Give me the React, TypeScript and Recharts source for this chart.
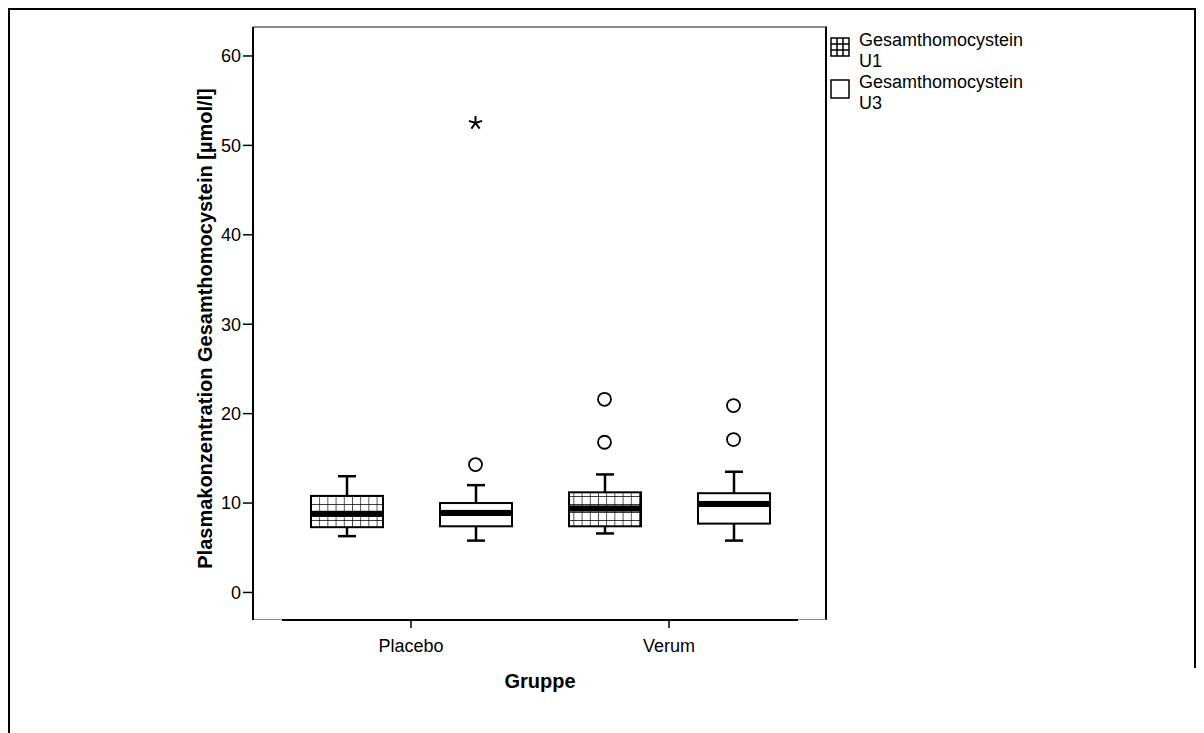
import React from "react";
import {
  ComposedChart,
  Bar,
  Scatter,
  XAxis,
  YAxis,
  ReferenceLine,
} from "recharts";

// boxes: Placebo U1, Placebo U3, Verum U1, Verum U3
const GROUPS = ["Placebo", "Verum"];
const SERIES = ["U1", "U3"];
const BOX_POS = [1, 3, 5, 7];
const WHISKER_LOW = [6.3, 5.8, 6.6, 5.8];
const Q1 = [7.3, 7.4, 7.4, 7.7];
const MEDIAN = [8.8, 8.9, 9.4, 9.9];
const Q3 = [10.8, 10.0, 11.2, 11.1];
const WHISKER_HIGH = [13.0, 12.0, 13.2, 13.5];

const OUTLIER_POS = [3, 5, 5, 7, 7];
const OUTLIER_VAL = [14.3, 21.6, 16.8, 20.9, 17.1];
const EXTREME_POS = [3];
const EXTREME_VAL = [52.5];

const Y_TICKS = [0, 10, 20, 30, 40, 50, 60];
const GROUP_TICKS = [2, 6];

const FONT = "'Liberation Sans', Arial, sans-serif";

const boxes = BOX_POS.map((x, i) => ({
  name: `${GROUPS[Math.floor(i / 2)]} ${SERIES[i % 2]}`,
  series: SERIES[i % 2],
  x,
  base: WHISKER_LOW[i],
  wLow: Q1[i] - WHISKER_LOW[i],
  boxLow: MEDIAN[i] - Q1[i],
  boxHigh: Q3[i] - MEDIAN[i],
  wHigh: WHISKER_HIGH[i] - Q3[i],
}));

const outliers = OUTLIER_POS.map((x, i) => ({ x, y: OUTLIER_VAL[i] }));
const extremes = EXTREME_POS.map((x, i) => ({ x, y: EXTREME_VAL[i] }));

const boxFill = (series: string) => (series === "U1" ? "url(#grid)" : "#fff");

const WhiskerLow = (p: any) => {
  const cx = p.x + p.width / 2;
  const bottom = p.y + p.height;
  return (
    <g>
      <line x1={cx} x2={cx} y1={p.y} y2={bottom} stroke="#000" strokeWidth={2.5} />
      <line x1={cx - 9} x2={cx + 9} y1={bottom} y2={bottom} stroke="#000" strokeWidth={2.5} />
    </g>
  );
};

const WhiskerHigh = (p: any) => {
  const cx = p.x + p.width / 2;
  return (
    <g>
      <line x1={cx} x2={cx} y1={p.y} y2={p.y + p.height} stroke="#000" strokeWidth={2.5} />
      <line x1={cx - 9} x2={cx + 9} y1={p.y} y2={p.y} stroke="#000" strokeWidth={2.5} />
    </g>
  );
};

const BoxLow = (p: any) => (
  <g>
    <rect x={p.x} y={p.y} width={p.width} height={p.height} fill={boxFill(p.payload.series)} stroke="#000" strokeWidth={2} />
    <rect x={p.x} y={p.y - 3} width={p.width} height={6} fill="#000" />
  </g>
);

const BoxHigh = (p: any) => (
  <g>
    <rect x={p.x} y={p.y} width={p.width} height={p.height} fill={boxFill(p.payload.series)} stroke="#000" strokeWidth={2} />
    <rect x={p.x} y={p.y + p.height - 3} width={p.width} height={6} fill="#000" />
  </g>
);

const Circle = (p: any) => (
  <circle cx={p.cx} cy={p.cy} r={6.5} fill="#fff" stroke="#000" strokeWidth={1.8} />
);

const Star = (p: any) => {
  const arms = [-90, -18, 54, 126, 198].map((a) => {
    const r = (a * Math.PI) / 180;
    return (
      <line key={a} x1={p.cx} y1={p.cy} x2={p.cx + 7 * Math.cos(r)} y2={p.cy + 7 * Math.sin(r)} stroke="#000" strokeWidth={2} />
    );
  });
  return <g>{arms}</g>;
};

const YLabel = (props: any) => {
  const vb = props.viewBox;
  const x = vb.x + 12;
  const y = vb.y + vb.height / 2 + 5;
  return (
    <text x={x} y={y} transform={`rotate(-90 ${x} ${y})`} textAnchor="middle" dominantBaseline="central"
      fontFamily={FONT} fontSize={20} fontWeight="bold" fill="#000">
      Plasmakonzentration Gesamthomocystein [µmol/l]
    </text>
  );
};

const XLabel = (props: any) => {
  const vb = props.viewBox;
  return (
    <text x={vb.x + vb.width / 2} y={vb.y + 68} textAnchor="middle"
      fontFamily={FONT} fontSize={20} fontWeight="bold" fill="#000">
      Gruppe
    </text>
  );
};

function LegendIcon({ series }: { series: string }) {
  return (
    <svg width={20} height={20} style={{ position: "absolute", left: 0, top: 0 }}>
      <rect x={1} y={1} width={18} height={18} fill="#fff" stroke="#000" strokeWidth={1.5} />
      {series === "U1" && (
        <g stroke="#000" strokeWidth={1.5}>
          <line x1={7} x2={7} y1={1} y2={19} />
          <line x1={13} x2={13} y1={1} y2={19} />
          <line x1={1} x2={19} y1={7} y2={7} />
          <line x1={1} x2={19} y1={13} y2={13} />
        </g>
      )}
    </svg>
  );
}

export default function App() {
  return (
    <div style={{ position: "relative", width: 1196, height: 725 }}>
      {/* outer frame */}
      <div style={{ position: "absolute", left: 0, top: 0, width: 1188, height: 740, borderLeft: "2px solid #000", borderTop: "2px solid #000", boxSizing: "border-box" }} />
      <div style={{ position: "absolute", left: 1186, top: 0, width: 2, height: 660, background: "#000" }} />
      {/* plot frame */}
      <div style={{ position: "absolute", left: 245, top: 18, width: 574, height: 594, borderTop: "2px solid #8a8a8a", borderRight: "2px solid #000", borderBottom: "1px solid #8a8a8a", boxSizing: "border-box" }} />
      <div style={{ position: "absolute", left: -8, top: -8 }}>
        <ComposedChart
          width={1204}
          height={733}
          data={boxes}
          margin={{ top: 27, right: 377, bottom: 73, left: 193 }}
        >
          <defs>
            <pattern id="grid" patternUnits="userSpaceOnUse" width={8.2} height={8} x={311} y={496}>
              <rect width={8.2} height={8} fill="#fff" />
              <path d="M0 0 H8.2 M0 0 V8" stroke="#000" strokeWidth={1.3} />
            </pattern>
          </defs>
          <XAxis
            xAxisId="num"
            dataKey="x"
            type="number"
            domain={[0, 8]}
            ticks={GROUP_TICKS}
            tickFormatter={(v: number) => GROUPS[GROUP_TICKS.indexOf(v)] ?? ""}
            padding={{ left: 29, right: 29 }}
            axisLine={false}
            tickSize={8}
            tickMargin={11}
            tickLine={{ stroke: "#000", strokeWidth: 1.5 }}
            tick={{ fontSize: 18, fill: "#000", fontFamily: FONT }}
            height={40}
            allowDataOverflow
            label={<XLabel />}
          />
          <XAxis xAxisId="cat" dataKey="name" type="category" hide height={0} padding={{ left: 29, right: 29 }} />
          <YAxis
            type="number"
            domain={[-3.08, 63.24]}
            ticks={Y_TICKS}
            allowDataOverflow
            width={60}
            tickSize={10}
            tickMargin={2}
            axisLine={{ stroke: "#000", strokeWidth: 2 }}
            tickLine={{ stroke: "#000", strokeWidth: 1.5 }}
            tick={{ fontSize: 18, fill: "#000", fontFamily: FONT }}
            label={<YLabel />}
          />
          <ReferenceLine
            xAxisId="num"
            segment={[{ x: 0, y: -3.08 }, { x: 8, y: -3.08 }]}
            stroke="#000"
            strokeWidth={2}
            ifOverflow="visible"
          />
          <Bar xAxisId="cat" dataKey="base" stackId="b" fill="transparent" barSize={72} isAnimationActive={false} />
          <Bar xAxisId="cat" dataKey="wLow" stackId="b" shape={WhiskerLow} barSize={72} isAnimationActive={false} />
          <Bar xAxisId="cat" dataKey="boxLow" stackId="b" shape={BoxLow} barSize={72} isAnimationActive={false} />
          <Bar xAxisId="cat" dataKey="boxHigh" stackId="b" shape={BoxHigh} barSize={72} isAnimationActive={false} />
          <Bar xAxisId="cat" dataKey="wHigh" stackId="b" shape={WhiskerHigh} barSize={72} isAnimationActive={false} />
          <Scatter xAxisId="num" data={outliers} dataKey="y" shape={Circle} isAnimationActive={false} />
          <Scatter xAxisId="num" data={extremes} dataKey="y" shape={Star} isAnimationActive={false} />
        </ComposedChart>
      </div>
      {/* legend */}
      <div style={{ position: "absolute", left: 822, top: 22, fontFamily: FONT, fontSize: 18, lineHeight: "21px", color: "#000" }}>
        {SERIES.map((s) => (
          <div key={s} style={{ position: "relative", paddingLeft: 29, height: 42 }}>
            <div style={{ position: "absolute", left: 0, top: 7 }}>
              <LegendIcon series={s} />
            </div>
            Gesamthomocystein
            <br />
            {s}
          </div>
        ))}
      </div>
    </div>
  );
}
